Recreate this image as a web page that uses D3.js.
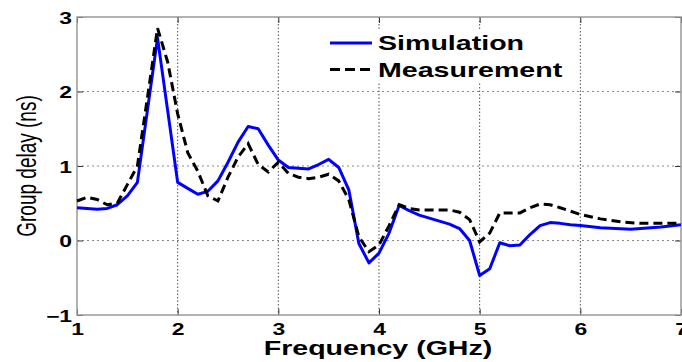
<!DOCTYPE html>
<html>
<head>
<meta charset="utf-8">
<script src="https://cdn.jsdelivr.net/npm/d3@7"></script>
<style>
  body { margin: 0; background: #fff; }
  text { font-family: "Liberation Sans", Arial, sans-serif; }
</style>
</head>
<body>
<svg id="chart" width="682" height="362"></svg>
<script>
// values
var freqSim = [1.0, 1.1, 1.2, 1.3, 1.4, 1.5, 1.6, 1.7, 1.8, 1.9, 2.0, 2.1, 2.2, 2.3, 2.4, 2.5, 2.6, 2.7, 2.8, 2.9,
    3.0, 3.1, 3.2, 3.3, 3.4, 3.5, 3.6, 3.7, 3.8, 3.9, 4.0, 4.1, 4.2, 4.3, 4.4, 4.5, 4.6, 4.7, 4.8, 4.9,
    5.0, 5.1, 5.2, 5.3, 5.4, 5.5, 5.6, 5.7, 5.8, 5.9, 6.0, 6.2, 6.5, 6.8, 7.0];
var delaySim = [0.44, 0.43, 0.42, 0.43, 0.48, 0.60, 0.78, 1.75, 2.72, 1.75, 0.78, 0.70, 0.62, 0.66, 0.80, 1.05, 1.32, 1.53, 1.50, 1.28,
    1.08, 0.98, 0.97, 0.96, 1.02, 1.09, 0.98, 0.68, -0.04, -0.30, -0.17, 0.10, 0.47, 0.40, 0.34, 0.30, 0.26, 0.22, 0.16, 0.00,
    -0.47, -0.38, -0.03, -0.07, -0.06, 0.08, 0.20, 0.24, 0.23, 0.21, 0.20, 0.17, 0.15, 0.18, 0.21];

var freqMeas = [1.0, 1.1, 1.2, 1.3, 1.4, 1.5, 1.6, 1.7, 1.8, 1.9, 2.0, 2.1, 2.2, 2.3, 2.4, 2.5, 2.6, 2.7, 2.8, 2.9,
    3.0, 3.1, 3.2, 3.3, 3.4, 3.5, 3.6, 3.7, 3.8, 3.9, 4.0, 4.1, 4.2, 4.3, 4.4, 4.5, 4.6, 4.7, 4.8, 4.9,
    5.0, 5.1, 5.2, 5.3, 5.4, 5.5, 5.6, 5.7, 5.8, 6.0, 6.2, 6.4, 6.6, 7.0];
var delayMeas = [0.53, 0.58, 0.55, 0.48, 0.50, 0.75, 1.00, 1.92, 2.85, 2.40, 1.70, 1.18, 0.93, 0.60, 0.53, 0.85, 1.12, 1.30, 1.02, 0.92,
    1.05, 0.90, 0.85, 0.83, 0.85, 0.89, 0.80, 0.55, 0.05, -0.15, -0.06, 0.20, 0.48, 0.43, 0.41, 0.41, 0.41, 0.41, 0.38, 0.28,
    -0.02, 0.10, 0.37, 0.37, 0.37, 0.44, 0.49, 0.48, 0.44, 0.35, 0.29, 0.25, 0.23, 0.23];

var xTicks = [1, 2, 3, 4, 5, 6, 7];
var yTicks = [-1, 0, 1, 2, 3];
var seriesNames = ["Simulation", "Measurement"];

var width = 682, height = 362;
var margin = {top: 17, right: 1, bottom: 47, left: 77};
var SX = 1.43; // the reference text is stretched sideways

var svg = d3.select("#chart");
var plotW = width - margin.left - margin.right;
var plotH = height - margin.top - margin.bottom;

var x = d3.scaleLinear().domain([1, 7]).range([margin.left, margin.left + plotW]);
var y = d3.scaleLinear().domain([-1, 3]).range([margin.top + plotH, margin.top]);

// grid
svg.append("g").selectAll("line")
    .data(xTicks.slice(1, -1))
    .join("line")
    .attr("x1", function (d) { return x(d); })
    .attr("x2", function (d) { return x(d); })
    .attr("y1", y(3)).attr("y2", y(-1))
    .attr("stroke", "#222").attr("stroke-width", 0.8)
    .attr("stroke-dasharray", "1.5,2");

svg.append("g").selectAll("line")
    .data(yTicks.slice(1, -1))
    .join("line")
    .attr("x1", x(1)).attr("x2", x(7))
    .attr("y1", function (d) { return y(d); })
    .attr("y2", function (d) { return y(d); })
    .attr("stroke", "#888").attr("stroke-width", 1)
    .attr("stroke-dasharray", "2,3");

// axes, ticks pointing inwards
function styleAxis(g) {
    g.select(".domain").remove();
    g.selectAll(".tick line").attr("stroke", "#333");
}

var xAxis = svg.append("g")
    .attr("transform", "translate(0," + y(-1) + ")")
    .call(d3.axisBottom(x).tickValues(xTicks).tickSize(-6).tickFormat(d3.format("d")))
    .call(styleAxis);
xAxis.selectAll(".tick text")
    .attr("y", 0).attr("dy", null)
    .attr("transform", "translate(0,20) scale(" + SX + ",1)")
    .attr("fill", "#000")
    .style("font-size", "16px").style("font-weight", "bold");

var yAxis = svg.append("g")
    .attr("transform", "translate(" + x(1) + ",0)")
    .call(d3.axisLeft(y).tickValues(yTicks).tickSize(-6).tickFormat(d3.format("d")))
    .call(styleAxis);
yAxis.selectAll(".tick text")
    .attr("x", 0).attr("dy", null)
    .attr("transform", "translate(-5,6) scale(" + SX + ",1)")
    .attr("fill", "#000")
    .style("font-size", "16px").style("font-weight", "bold");

svg.append("g")
    .attr("transform", "translate(" + x(7) + ",0)")
    .call(d3.axisRight(y).tickValues(yTicks).tickSize(-6).tickFormat(""))
    .call(styleAxis);
svg.append("g")
    .attr("transform", "translate(0," + y(3) + ")")
    .call(d3.axisTop(x).tickValues(xTicks).tickSize(-6).tickFormat(""))
    .call(styleAxis);

// frame
svg.append("rect")
    .attr("x", x(1)).attr("y", y(3))
    .attr("width", x(7) - x(1)).attr("height", y(-1) - y(3))
    .attr("fill", "none").attr("stroke", "#999").attr("stroke-width", 1.5);

// legend background (hides grid)
var legX = 326, legY = 30;
svg.append("rect")
    .attr("x", legX).attr("y", legY).attr("width", 250).attr("height", 53)
    .attr("fill", "#fff");

// curves
var line = d3.line()
    .x(function (d) { return x(d[0]); })
    .y(function (d) { return y(d[1]); });

var simData = d3.zip(freqSim, delaySim);
var measData = d3.zip(freqMeas, delayMeas);

svg.append("path")
    .datum(simData)
    .attr("d", line)
    .attr("fill", "none").attr("stroke", "#0000ff")
    .attr("stroke-width", 3).attr("stroke-linejoin", "round");

svg.append("path")
    .datum(measData)
    .attr("d", line)
    .attr("fill", "none").attr("stroke", "#000")
    .attr("stroke-width", 3).attr("stroke-dasharray", "9,5");

// legend entries
var legend = svg.append("g");
seriesNames.forEach(function (name, i) {
    var ly = 43 + i * 26.5;
    legend.append("line")
        .attr("x1", 330).attr("x2", 372)
        .attr("y1", ly).attr("y2", ly)
        .attr("stroke", i === 0 ? "#0000ff" : "#000")
        .attr("stroke-width", 3)
        .attr("stroke-dasharray", i === 0 ? null : "10,5");
    legend.append("text")
        .attr("transform", "translate(378," + (ly + 7) + ") scale(" + SX + ",1)")
        .style("font-size", "20px").style("font-weight", "bold")
        .text(name);
});

// axis titles
svg.append("text")
    .attr("transform", "translate(378,355) scale(" + SX + ",1)")
    .attr("text-anchor", "middle")
    .style("font-size", "20px").style("font-weight", "bold")
    .text("Frequency (GHz)");

svg.append("text")
    .attr("transform", "translate(36,166) rotate(-90) scale(1," + SX + ")")
    .attr("text-anchor", "middle")
    .style("font-size", "19px")
    .text("Group delay (ns)");
</script>
</body>
</html>
